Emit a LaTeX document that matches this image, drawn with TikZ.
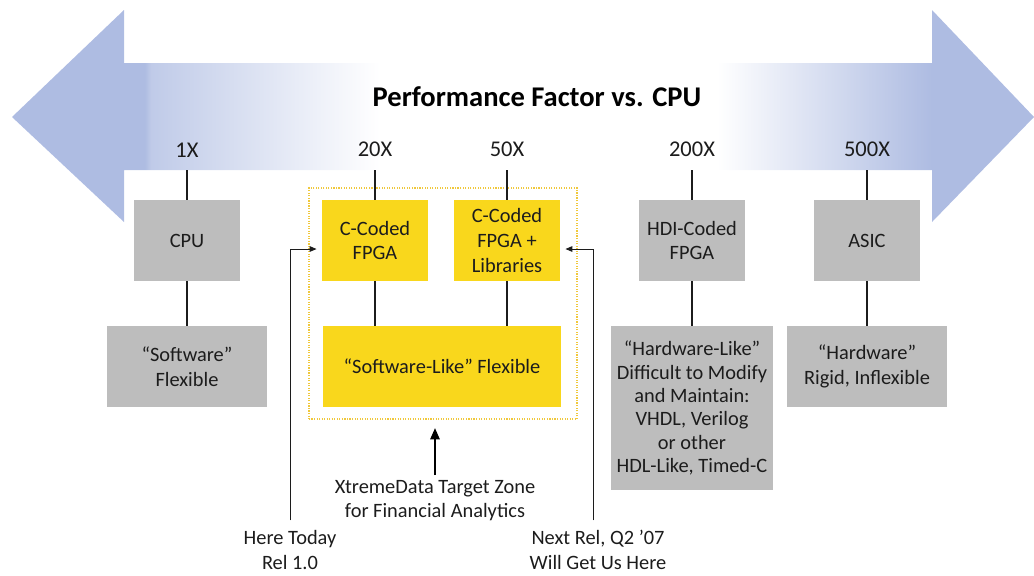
\documentclass[tikz,border=0pt]{standalone}
\usepackage{fontspec}
\setmainfont{Carlito}
\usetikzlibrary{arrows.meta}
\definecolor{perfblue}{HTML}{AEBCE2}
\definecolor{boxgray}{HTML}{BDBDBD}
\definecolor{fpgayellow}{HTML}{F9D71C}
\definecolor{zoneyellow}{HTML}{F0C83C}
\definecolor{inkgray}{HTML}{1C1C1C}
\pgfdeclarehorizontalshading{perfshade}{100bp}{color(0bp)=(perfblue); color(31.5bp)=(perfblue); color(31.8bp)=(perfblue!78!white); color(43bp)=(white); color(59.5bp)=(white); color(68.7bp)=(perfblue!88!white); color(70bp)=(perfblue); color(100bp)=(perfblue)}
\newcommand\diagfont{\fontsize{14.5}{17.5}\selectfont}
\newcommand\ticklabelfont{\fontsize{16}{18}\selectfont}
\newcommand\headfont{\fontsize{20.3}{24}\selectfont\bfseries}
\begin{document}
\begin{tikzpicture}[x=0.025cm, y=-0.025cm,
  every node/.style={font=\diagfont, text=inkgray, align=center},
  graybox/.style={fill=boxgray, inner sep=0pt},
  yellowbox/.style={fill=fpgayellow, inner sep=0pt},
  chip/.style={minimum width=2.625cm, minimum height=2.025cm},
  trait/.style={minimum width=3.975cm, minimum height=2.025cm},
  zone/.style={draw=zoneyellow, densely dotted, line width=0.8pt,
    minimum width=6.7cm, minimum height=5.775cm},
  tick/.style={anchor=south, inner ysep=9pt, font=\ticklabelfont},
  release/.style={inner ysep=1pt},
  link/.style={draw=inkgray, line width=1pt},
  pointer/.style={draw=inkgray, line width=0.7pt, -{Triangle[length=5pt,width=4pt]}}]
\useasboundingbox (0,0) rectangle (1034,575);
% the performance axis
\shade[shading=perfshade] (12,117) -- (124,10) -- (124,63) -- (932,63) -- (932,10)
  -- (1034,117) -- (932,222) -- (932,170) -- (124,170) -- (124,222) -- cycle;
\node[font=\headfont, text=black] (title) at (537,97) {Performance Factor vs. CPU};
\node[tick] (x1) at (187,170) {1X};
\node[tick] (x20) at (375,170) {20X};
\node[tick] (x50) at (507,170) {50X};
\node[tick] (x200) at (692,170) {200X};
\node[tick] (x500) at (867,170) {500X};
% target zone
\node[zone] (zone) at (443,303.5) {};
% chips
\node[graybox, chip] (cpu) at (187,240.5) {CPU};
\node[yellowbox, chip] (cfpga) at (375,240.5) {C-Coded\\FPGA};
\node[yellowbox, chip] (cfpgalib) at (507,240.5) {C-Coded\\FPGA +\\Libraries};
\node[graybox, chip] (hdi) at (692,240.5) {HDI-Coded\\FPGA};
\node[graybox, chip] (asic) at (867,240.5) {ASIC};
% flexibility
\node[graybox, trait] (soft) at (187,366.5) {“Software”\\Flexible};
\node[yellowbox, trait, minimum width=5.95cm] (swlike) at (442,366.5) {“Software-Like” Flexible};
\node[graybox, minimum width=4.05cm, minimum height=4.1cm, font=\fontsize{14.5}{16.6}\selectfont] (hwlike) at (692,408)
  {“Hardware-Like”\\Difficult to Modify\\and Maintain:\\VHDL, Verilog\\or other\\HDL-Like, Timed-C};
\node[graybox, trait] (hard) at (867,366.5) {“Hardware”\\Rigid, Inflexible};
% ticks
\draw[link] (x1.south) -- (cpu.north);
\draw[link] (x20.south) -- (cfpga.north);
\draw[link] (x50.south) -- (cfpgalib.north);
\draw[link] (x200.south) -- (hdi.north);
\draw[link] (x500.south) -- (asic.north);
\draw[link] (cpu) -- (soft);
\draw[link] (cfpga.south) -- (cfpga.south |- swlike.north);
\draw[link] (cfpgalib.south) -- (cfpgalib.south |- swlike.north);
\draw[link] (hdi) -- (hwlike);
\draw[link] (asic) -- (hard);
% releases
\node (target) at (435,500.5) {XtremeData Target Zone\\for Financial Analytics};
\draw[draw=black, line width=1.5pt, -{Triangle[length=8pt,width=6.5pt]}, shorten >=6pt]
  (target.north) -- (target.north |- zone.south);
\node[release] (here) at (290,550) {Here Today\\Rel 1.0};
\node[release] (next) at (598,550) {Next Rel, Q2 ’07\\Will Get Us Here};
\draw[pointer, shorten >=4pt, shorten <=6pt] (here.north) |- ([yshift=-0.2125cm]cfpga.west);
\draw[pointer, shorten >=4pt, shorten <=6pt] ([xshift=-0.125cm]next.north) |- ([yshift=-0.2125cm]cfpgalib.east);
\end{tikzpicture}
\end{document}
